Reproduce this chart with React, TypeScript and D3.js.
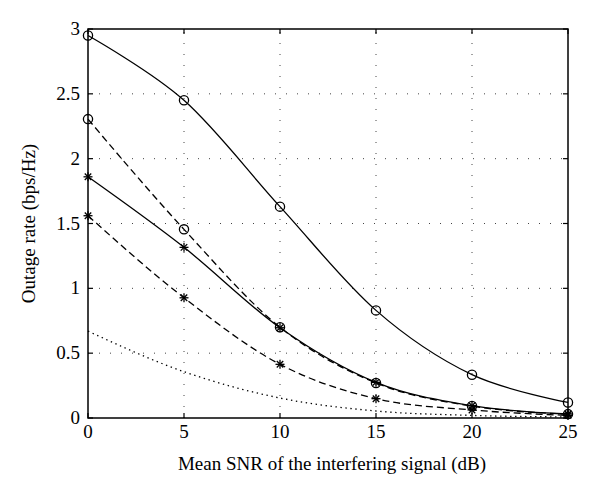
import * as d3 from 'd3';

const snr = [0, 5, 10, 15, 20, 25];

// solid, circles
const rateA = [2.95, 2.45, 1.63, 0.83, 0.334, 0.12];
// dashed, circles
const rateB = [2.305, 1.455, 0.70, 0.27, 0.092, 0.03];
// solid, stars
const rateC = [1.86, 1.316, 0.696, 0.275, 0.095, 0.031];
// dashed, stars
const rateD = [1.56, 0.927, 0.414, 0.149, 0.062, 0.02];
// dotted, no markers
const rateE = [0.67, 0.357, 0.154, 0.054, 0.02, 0.008];

const xTicks = [0, 5, 10, 15, 20, 25];
const yTicks = [0, 0.5, 1, 1.5, 2, 2.5, 3];

const W = 600;
const H = 497;
const margin = {left: 88, right: 32, top: 29, bottom: 79};
const FONT = '"Liberation Serif", "DejaVu Serif", serif';

type Series = {values: number[]; dash?: string; marker?: 'circle' | 'star'; smooth?: boolean};

const series: Series[] = [
  {values: rateE, dash: '1.4,3.6'},
  {values: rateD, dash: '7,4', marker: 'star'},
  {values: rateC, marker: 'star', smooth: true},
  {values: rateB, dash: '7,4', marker: 'circle'},
  {values: rateA, marker: 'circle', smooth: true},
];

function Star({x, y}: {x: number; y: number}) {
  const r = 4.5;
  const d = r * 0.72;
  return (
    <g stroke="#000" strokeWidth={1.3}>
      <line x1={x - r} y1={y} x2={x + r} y2={y} />
      <line x1={x} y1={y - r} x2={x} y2={y + r} />
      <line x1={x - d} y1={y - d} x2={x + d} y2={y + d} />
      <line x1={x - d} y1={y + d} x2={x + d} y2={y - d} />
    </g>
  );
}

export default function App() {
  const x = d3.scaleLinear().domain([0, 25]).range([margin.left, W - margin.right]);
  const y = d3.scaleLinear().domain([0, 3]).range([H - margin.bottom, margin.top]);

  const makeLine = (smooth?: boolean) =>
    d3
      .line<number>()
      .x((_, i) => x(snr[i]))
      .y((d) => y(d))
      .curve(smooth ? d3.curveCardinal.tension(0) : d3.curveMonotoneX);

  const [x0, x1] = x.range();
  const [y0, y1] = y.range();

  return (
    <svg
      width={W}
      height={H}
      style={{position: 'absolute', left: 0, top: 0, background: '#fff'}}
      fontFamily={FONT}
    >
      <rect width={W} height={H} fill="#fff" />
      {/* grid */}
      <g stroke="#444" strokeWidth={1} strokeDasharray="1,10">
        {xTicks.slice(1, -1).map((t) => (
          <line key={'gx' + t} x1={x(t)} x2={x(t)} y1={y0} y2={y1} />
        ))}
        {yTicks.slice(1, -1).map((t) => (
          <line key={'gy' + t} x1={x0} x2={x1} y1={y(t)} y2={y(t)} />
        ))}
      </g>
      {/* series */}
      {series.map((s, i) => (
        <g key={i}>
          <path
            d={makeLine(s.smooth)(s.values)!}
            fill="none"
            stroke="#000"
            strokeWidth={1.3}
            strokeDasharray={s.dash}
          />
          {s.marker &&
            s.values.map((v, j) =>
              s.marker === 'circle' ? (
                <circle key={j} cx={x(snr[j])} cy={y(v)} r={4.6} fill="none" stroke="#000" strokeWidth={1.3} />
              ) : (
                <Star key={j} x={x(snr[j])} y={y(v)} />
              ),
            )}
        </g>
      ))}
      {/* box and ticks */}
      <rect x={x0} y={y1} width={x1 - x0} height={y0 - y1} fill="none" stroke="#000" strokeWidth={1.5} />
      <g stroke="#000" strokeWidth={1.2}>
        {xTicks.map((t) => (
          <g key={'tx' + t}>
            <line x1={x(t)} x2={x(t)} y1={y0} y2={y0 - 5} />
            <line x1={x(t)} x2={x(t)} y1={y1} y2={y1 + 5} />
          </g>
        ))}
        {yTicks.map((t) => (
          <g key={'ty' + t}>
            <line x1={x0} x2={x0 + 5} y1={y(t)} y2={y(t)} />
            <line x1={x1} x2={x1 - 5} y1={y(t)} y2={y(t)} />
          </g>
        ))}
      </g>
      {/* tick labels */}
      <g fontSize={19} fill="#000">
        {xTicks.map((t) => (
          <text key={'lx' + t} x={x(t)} y={438} textAnchor="middle">
            {t}
          </text>
        ))}
        {yTicks.map((t) => (
          <text key={'ly' + t} x={80} y={y(t) + 6} textAnchor="end">
            {t}
          </text>
        ))}
      </g>
      <text x={332} y={470} textAnchor="middle" fontSize={19}>
        Mean SNR of the interfering signal (dB)
      </text>
      <text
        transform={`translate(35,${(y0 + y1) / 2}) rotate(-90)`}
        textAnchor="middle"
        fontSize={19}
      >
        Outage rate (bps/Hz)
      </text>
    </svg>
  );
}
